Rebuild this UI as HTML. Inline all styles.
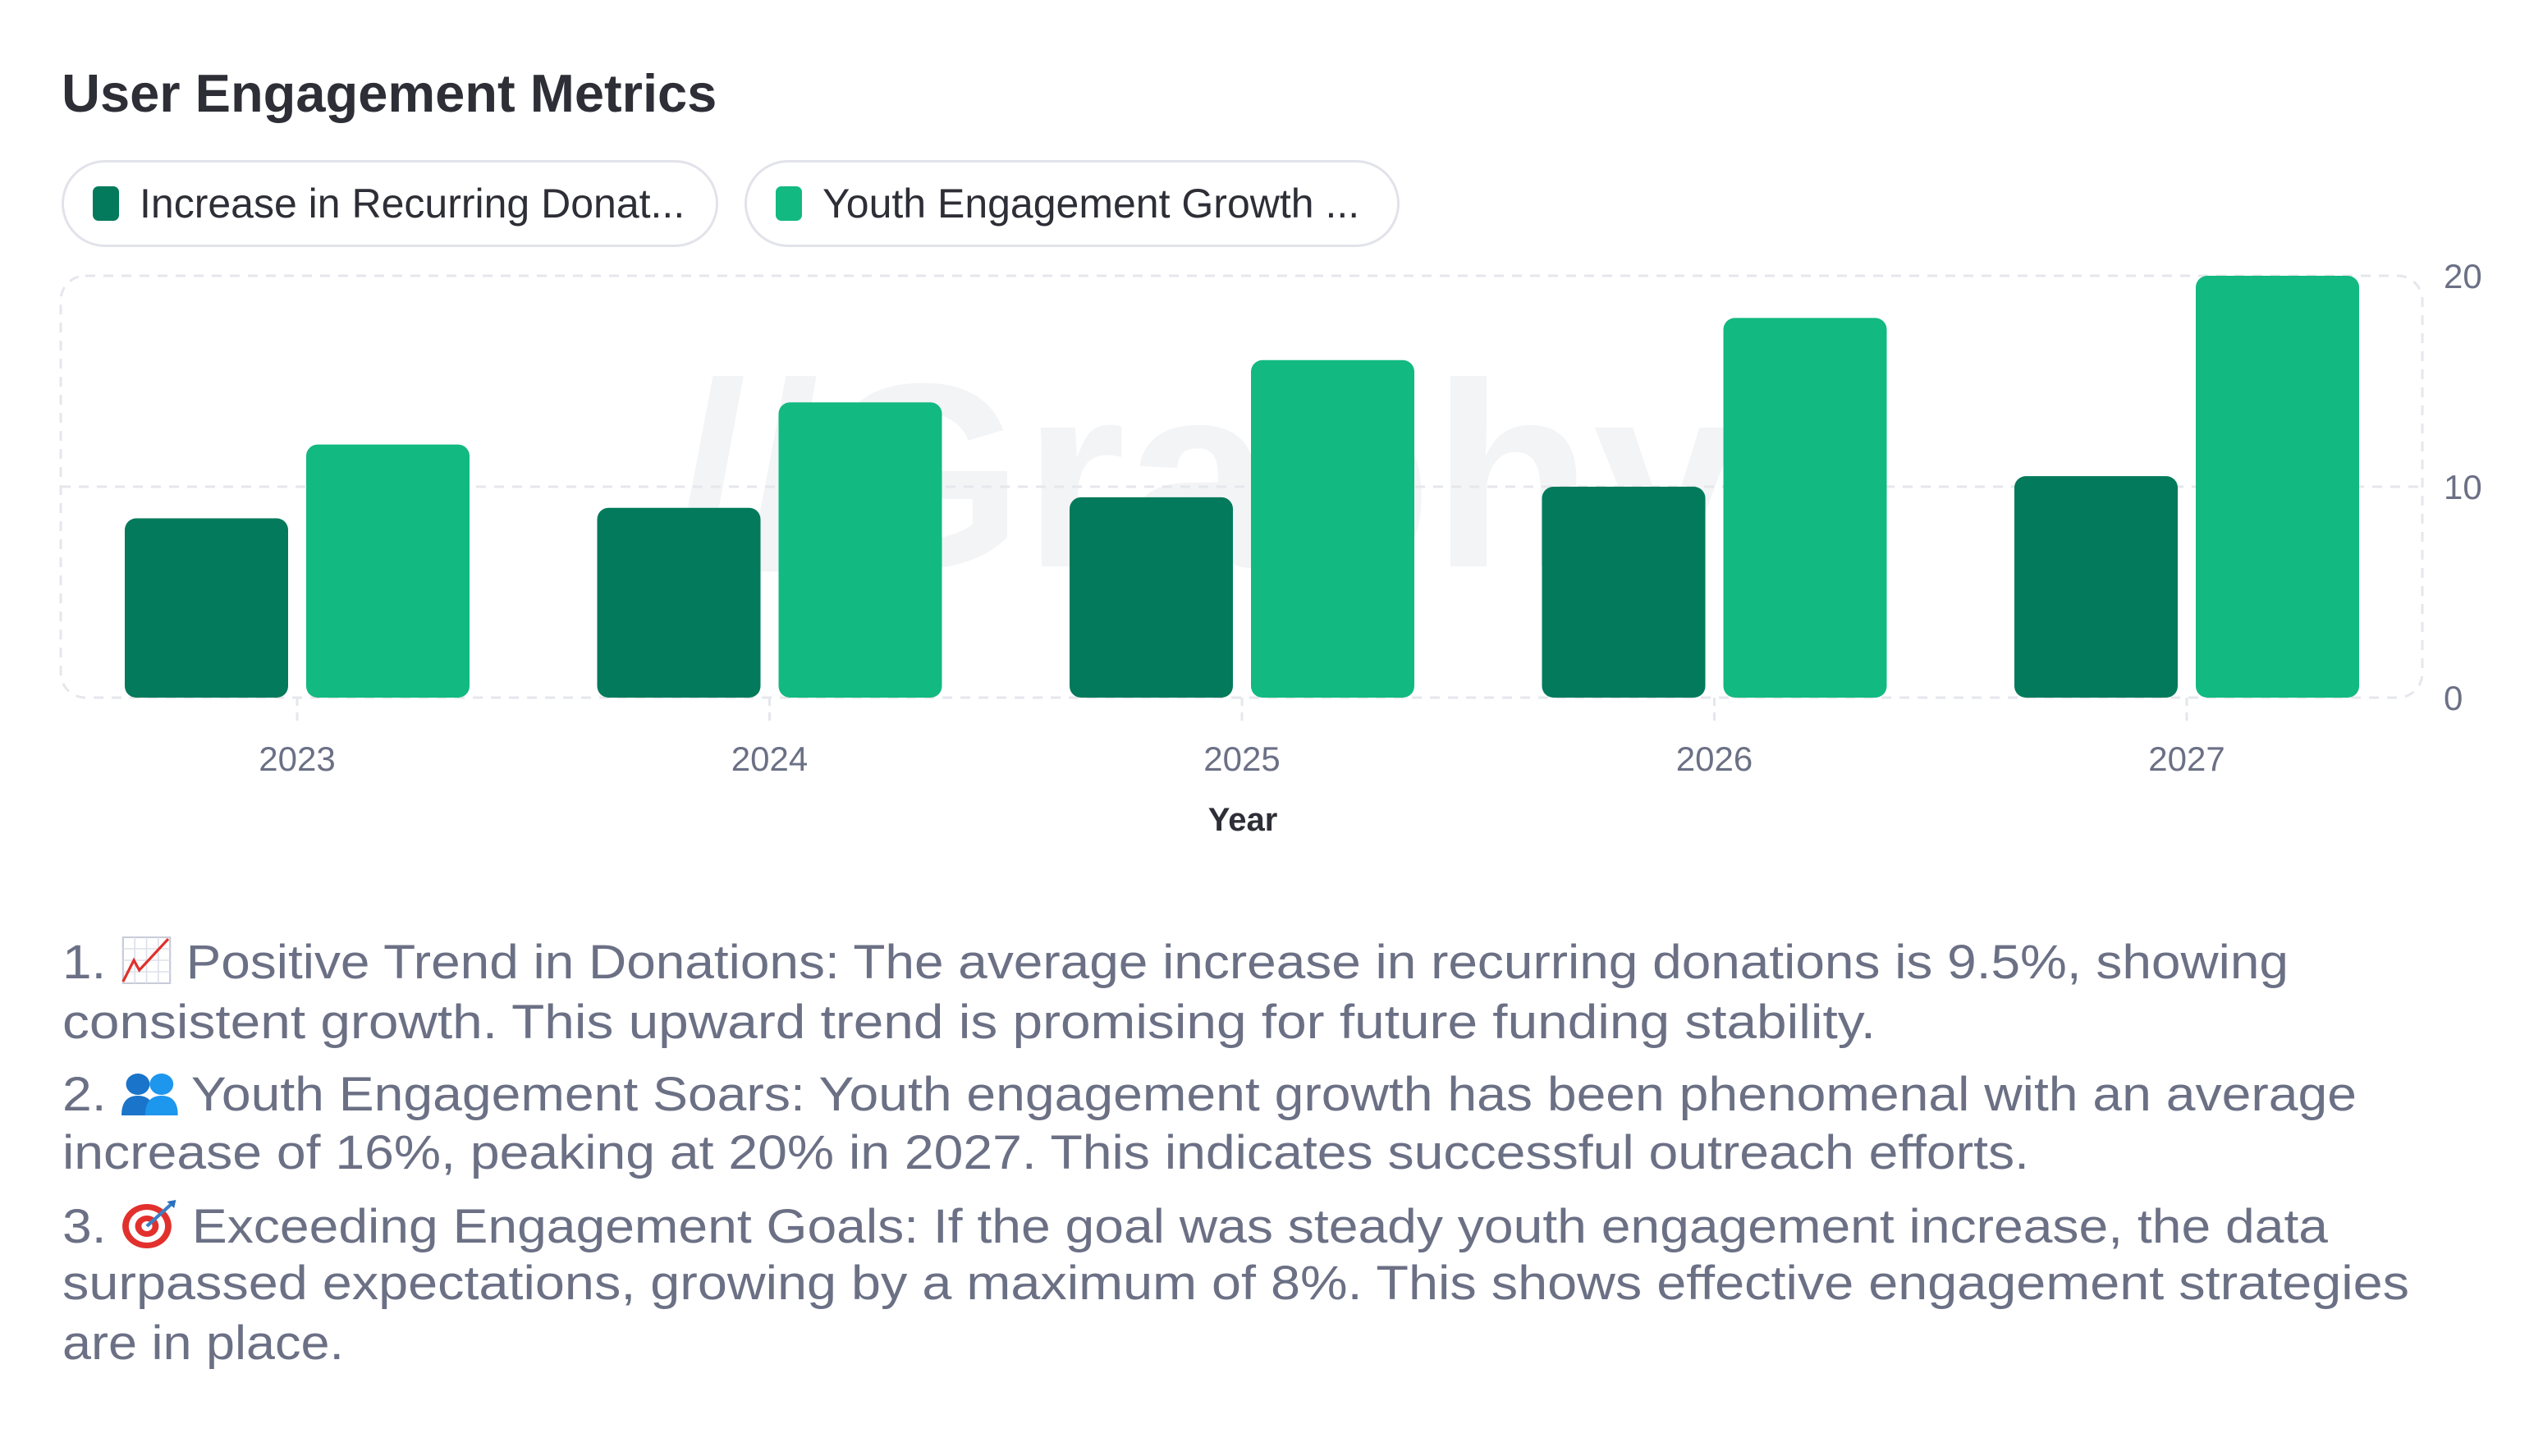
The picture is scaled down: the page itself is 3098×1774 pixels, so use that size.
<!DOCTYPE html>
<html><head><meta charset="utf-8">
<style>
html,body{margin:0;padding:0;background:#fff;width:3098px;height:1774px;overflow:hidden;font-family:"Liberation Sans",sans-serif;}
.abs{position:absolute;}
#title{position:absolute;left:75px;top:76px;font-size:65px;font-weight:bold;color:#2d2e36;white-space:nowrap;}
.pill{position:absolute;top:195px;height:100px;border:3px solid #e2e3ea;border-radius:53px;box-sizing:content-box;}
.sw{position:absolute;left:35px;top:29px;width:32px;height:42px;border-radius:7px;}
.pt{position:absolute;left:92px;top:21px;font-size:50px;color:#2d2e36;white-space:nowrap;}
.line{position:absolute;left:76px;font-size:58px;color:#6b7085;white-space:nowrap;transform-origin:0 0;}
.emo{display:inline-block;vertical-align:-8px;}
</style></head><body>
<div id="title">User Engagement Metrics</div>
<div class="pill" style="left:75px;width:794px"><div class="sw" style="background:#027a5b"></div><div class="pt">Increase in Recurring Donat...</div></div>
<div class="pill" style="left:907px;width:792px"><div class="sw" style="background:#12b981"></div><div class="pt">Youth Engagement Growth ...</div></div>

<svg class="abs" style="left:0;top:0" width="3098" height="1100">
  <defs><clipPath id="wm"><rect x="0" y="300" width="3098" height="745"/></clipPath></defs>
  <text x="820" y="690" font-size="320" font-weight="bold" fill="#f3f4f6" font-family="Liberation Sans, sans-serif" clip-path="url(#wm)">//Graphy</text>
  <g id="grid"></g>
  <g id="bars"></g>
  <g id="labels"></g>
  <text x="1514" y="1012" text-anchor="middle" font-size="40" font-weight="bold" fill="#2d2e36" font-family="Liberation Sans, sans-serif">Year</text>
</svg>

<div class="line" style="top:1139px">1. <svg class="emo" width="56" height="60" viewBox="0 0 56 60"><rect x="2" y="2" width="52" height="56" fill="#fff" stroke="#c8ccd8" stroke-width="2"/><path d="M2 16H54M2 30H54M2 44H54M15 2V58M28 2V58M41 2V58" stroke="#dde0ea" stroke-width="1.5"/><path d="M2 56L14 30L20 42L52 4" stroke="#e0302a" stroke-width="3" fill="none"/></svg> Positive Trend in Donations: The average increase in recurring donations is 9.5%, showing</div>
<div class="line" style="top:1212px">consistent growth. This upward trend is promising for future funding stability.</div>
<div class="line" style="top:1300px">2. <svg class="emo" width="62" height="60" viewBox="0 0 62 60"><circle cx="18" cy="20" r="13" fill="#1a74c9"/><path d="M0 58Q0 34 18 34Q36 34 36 58Z" fill="#1a74c9"/><circle cx="44" cy="20" r="13" fill="#1d96ee"/><path d="M26 58Q26 34 44 34Q62 34 62 58Z" fill="#1d96ee"/></svg> Youth Engagement Soars: Youth engagement growth has been phenomenal with an average</div>
<div class="line" style="top:1371px">increase of 16%, peaking at 20% in 2027. This indicates successful outreach efforts.</div>
<div class="line" style="top:1460px">3. <svg class="emo" width="62" height="62" viewBox="0 0 62 62"><circle cx="28" cy="34" r="27" fill="#e2302d"/><circle cx="28" cy="34" r="20" fill="#fff"/><circle cx="28" cy="34" r="13" fill="#e2302d"/><circle cx="28" cy="34" r="6" fill="#fff"/><path d="M28 34L54 8" stroke="#3a7fc4" stroke-width="4"/><path d="M50 4L60 2L58 12Z" fill="#2a6fc0"/></svg> Exceeding Engagement Goals: If the goal was steady youth engagement increase, the data</div>
<div class="line" style="top:1530px">surpassed expectations, growing by a maximum of 8%. This shows effective engagement strategies</div>
<div class="line" style="top:1603px">are in place.</div>

<script>
const categories = ["2023","2024","2025","2026","2027"];
const recurringDonations = [8.5, 9, 9.5, 10, 10.5];
const youthEngagement = [12, 14, 16, 18, 20];
const yTicks = [0, 10, 20];

const NS = "http://www.w3.org/2000/svg";
const plotL = 74, plotR = 2951, plotT = 336, plotB = 850;
const yMax = 20;
function yScale(v){ return plotB - (v / yMax) * (plotB - plotT); }
const step = 575.5, x0 = 362;
function xScale(i){ return x0 + i * step; }
function mk(tag, attrs, parent){ const e = document.createElementNS(NS, tag); for (const k in attrs) e.setAttribute(k, attrs[k]); parent.appendChild(e); return e; }

const grid = document.getElementById('grid');
const bars = document.getElementById('bars');
const labels = document.getElementById('labels');

const frame = mk('rect', {x:plotL, y:plotT, width:plotR-plotL, height:plotB-plotT, rx:30, fill:'none', stroke:'#e6e7ec', 'stroke-width':3, 'stroke-dasharray':'12 10'}, grid);


yTicks.forEach(t => {
  const y = yScale(t);
  if (t > 0 && t < yMax) {
    const g = mk('line', {x1:plotL, x2:plotR, y1:y, y2:y, stroke:'#e6e7ec', 'stroke-width':3, 'stroke-dasharray':'12 10'}, grid);
    
    
  }
  const tx = mk('text', {x:2977, y:y+15, 'font-size':42, fill:'#6b7085', 'font-family':'Liberation Sans, sans-serif'}, labels);
  tx.textContent = t;
  
  
});

categories.forEach((c, i) => {
  const cx = xScale(i);
  const tk = mk('line', {x1:cx, x2:cx, y1:plotB, y2:plotB+34, stroke:'#e6e7ec', 'stroke-width':3, 'stroke-dasharray':'10 8'}, grid);
  
  
  const b1 = mk('rect', {x:cx-210, y:yScale(recurringDonations[i]), width:199, height:plotB-yScale(recurringDonations[i]), rx:14, fill:'#027a5b'}, bars);
  
  
  const b2 = mk('rect', {x:cx+11, y:yScale(youthEngagement[i]), width:199, height:plotB-yScale(youthEngagement[i]), rx:14, fill:'#12b981'}, bars);
  
  
  const lb = mk('text', {x:cx, y:939, 'text-anchor':'middle', 'font-size':42, fill:'#6b7085', 'font-family':'Liberation Sans, sans-serif'}, labels);
  lb.textContent = c;
  
  
});

const targets = [2788, 2285, 2871, 2472, 2836, 2935, 419];
document.querySelectorAll('.line').forEach((el, i) => {
  const w = el.getBoundingClientRect().width;
  const tw = targets[i] - 76;
  if (w > 0) el.style.transform = 'scaleX(' + (tw / w) + ')';
});
</script>
</body></html>
